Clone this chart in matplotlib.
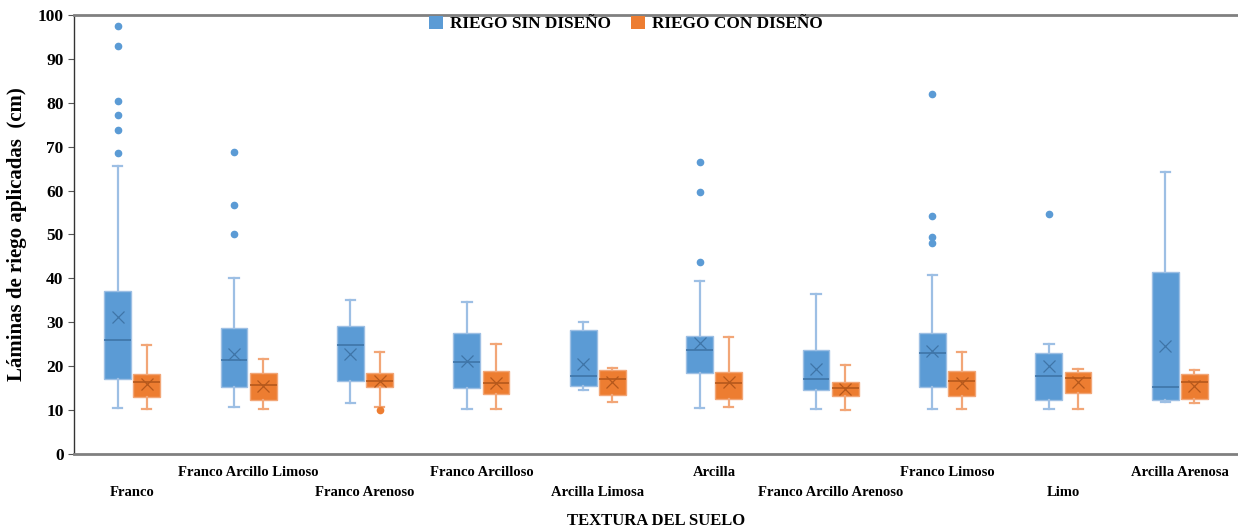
import numpy as np
import matplotlib.pyplot as plt

# Soil textures (x categories)
texturas = ["Franco", "Franco Arcillo Limoso", "Franco Arenoso", "Franco Arcilloso",
            "Arcilla Limosa", "Arcilla", "Franco Arcillo Arenoso", "Franco Limoso",
            "Limo", "Arcilla Arenosa"]

# RIEGO SIN DISEÑO: whisker low, q1, median, q3, whisker high, mean
sin_whislo = [10.4, 10.6, 11.6, 10.3, 14.5, 10.4, 10.2, 10.3, 10.3, 11.9]
sin_q1 = [17.1, 15.2, 16.6, 15.1, 15.4, 18.5, 14.5, 15.3, 12.2, 12.3]
sin_med = [25.9, 21.3, 24.8, 21.0, 17.7, 23.7, 17.0, 23.1, 17.8, 15.3]
sin_q3 = [37.1, 28.8, 29.1, 27.6, 28.3, 26.9, 23.8, 27.5, 23.1, 41.5]
sin_whishi = [65.6, 40.0, 35.1, 34.6, 30.0, 39.5, 36.5, 40.8, 25.1, 64.2]
sin_mean = [31.2, 22.7, 22.7, 21.2, 20.5, 25.2, 19.4, 23.5, 20.0, 24.6]
sin_out = [[97.5, 93.0, 80.5, 77.3, 73.7, 68.6], [68.9, 56.7, 50.2], [], [], [],
           [66.6, 59.6, 43.7], [], [82.1, 54.1, 49.5, 48.1], [54.6], []]

# RIEGO CON DISEÑO
con_whislo = [10.3, 10.3, 10.7, 10.3, 11.9, 10.6, 10.1, 10.2, 10.2, 11.7]
con_q1 = [13.0, 12.4, 15.3, 13.7, 13.4, 12.5, 13.1, 13.1, 13.8, 12.5]
con_med = [16.5, 15.7, 16.7, 16.1, 17.1, 16.2, 15.0, 16.6, 17.2, 16.5]
con_q3 = [18.3, 18.5, 18.5, 18.8, 19.1, 18.7, 16.5, 18.8, 18.6, 18.2]
con_whishi = [24.9, 21.6, 23.2, 25.0, 19.5, 26.6, 20.3, 23.2, 19.4, 19.1]
con_mean = [16.0, 15.4, 16.6, 16.2, 16.4, 16.3, 14.9, 16.2, 16.3, 15.6]
con_out = [[], [], [10.0], [], [], [], [], [], [], []]


def make_stats(lo, q1, med, q3, hi, mean, out):
    return [dict(whislo=a, q1=b, med=c, q3=d, whishi=e, mean=f, fliers=g)
            for a, b, c, d, e, f, g in zip(lo, q1, med, q3, hi, mean, out)]


plt.rcParams['font.family'] = ['Liberation Serif', 'DejaVu Serif']
plt.rcParams['font.weight'] = 'bold'
plt.rcParams['axes.labelweight'] = 'bold'

fig = plt.figure(figsize=(12.38, 5.31), dpi=100)
ax = fig.add_axes([0.0598, 0.145, 0.9402, 0.8268])

x = np.arange(len(texturas))
series = [
    (make_stats(sin_whislo, sin_q1, sin_med, sin_q3, sin_whishi, sin_mean, sin_out),
     x - 0.125, '#5B9BD5', '#9DBFE4', '#3F75A8', 'RIEGO SIN DISEÑO'),
    (make_stats(con_whislo, con_q1, con_med, con_q3, con_whishi, con_mean, con_out),
     x + 0.125, '#ED7D31', '#F2A677', '#B5581C', 'RIEGO CON DISEÑO'),
]

handles = []
for stats, pos, fill, light, dark, name in series:
    ax.bxp(stats, positions=pos, widths=0.23, patch_artist=True, showmeans=True,
           capwidths=0.08, manage_ticks=False,
           boxprops=dict(facecolor=fill, edgecolor=light, linewidth=1.0),
           medianprops=dict(color=dark, linewidth=1.2),
           whiskerprops=dict(color=light, linewidth=1.6),
           capprops=dict(color=light, linewidth=1.6),
           meanprops=dict(marker='x', markeredgecolor=dark, markersize=8,
                          markeredgewidth=0.9),
           flierprops=dict(marker='o', markerfacecolor=fill, markeredgecolor=fill,
                           markersize=4.5))
    handles.append(plt.Rectangle((0, 0), 1, 1, facecolor=fill, edgecolor='none', label=name))

ax.set_xlim(-0.5, len(texturas) - 0.5)
ax.set_ylim(0, 100)
ax.set_yticks(np.arange(0, 101, 10))
ax.tick_params(axis='y', labelsize=12.5, length=4, color='#555555')
ax.set_xticks(x)
ax.set_xticklabels(texturas, fontsize=10.5)
ax.tick_params(axis='x', length=0)
for i, t in enumerate(ax.xaxis.get_major_ticks()):
    t.set_pad(23 if i % 2 == 0 else 8.5)

ax.spines['right'].set_visible(False)
ax.spines['left'].set_color('#333333')
ax.spines['left'].set_linewidth(1.0)
for s in ('top', 'bottom'):
    ax.spines[s].set_color('#808080')
    ax.spines[s].set_linewidth(2.0)

ax.set_ylabel('Láminas de riego aplicadas  (cm)', fontsize=15, labelpad=8)
ax.set_xlabel('TEXTURA DEL SUELO', fontsize=12, labelpad=10)

ax.legend(handles=handles, loc='upper center', bbox_to_anchor=(0.474, 1.018), ncol=2,
          frameon=False, fontsize=12.4, handlelength=0.8, handleheight=0.8,
          columnspacing=1.2, handletextpad=0.4, borderaxespad=0.1)

fig.savefig('out.png', dpi=100)
